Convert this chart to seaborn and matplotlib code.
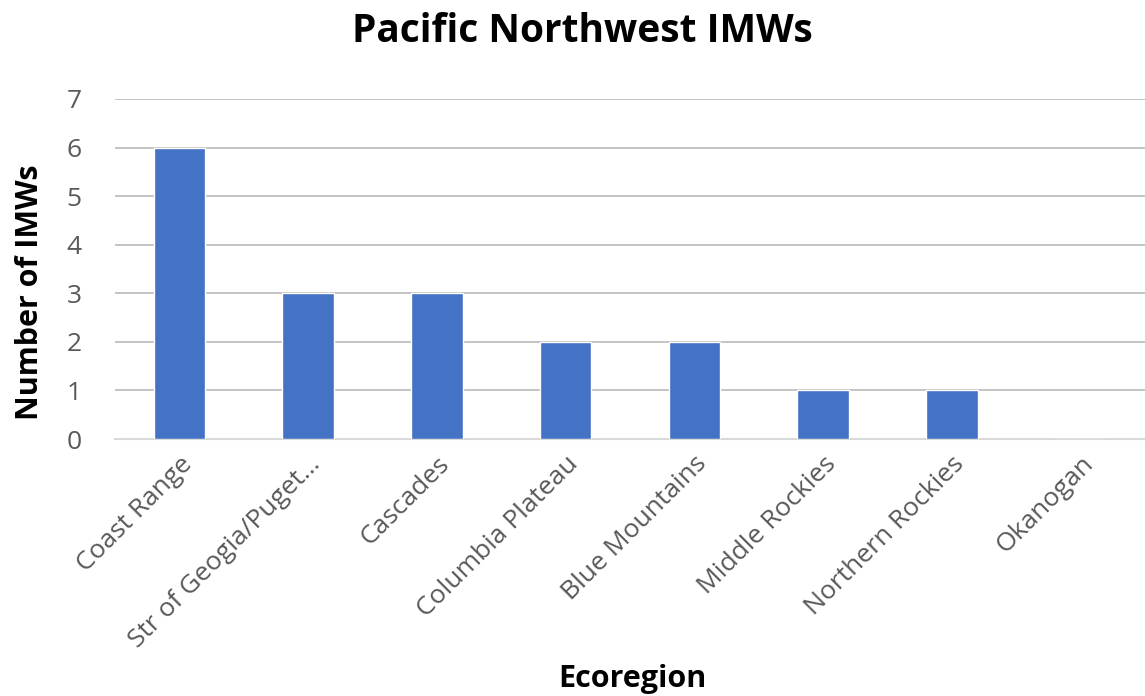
import matplotlib
matplotlib.use("Agg")
import matplotlib.pyplot as plt
import seaborn as sns
import pandas as pd

ecoregions = ["Coast Range", "Str of Geogia/Puget…", "Cascades", "Columbia Plateau",
              "Blue Mountains", "Middle Rockies", "Northern Rockies", "Okanogan"]
imw_counts = [6, 3, 3, 2, 2, 1, 1, 0]
y_ticks = [0, 1, 2, 3, 4, 5, 6, 7]

sns.set_theme(style="white")
plt.rcParams["font.family"] = ["Open Sans", "DejaVu Sans"]

df = pd.DataFrame({"Ecoregion": ecoregions, "IMWs": imw_counts})

fig = plt.figure(figsize=(11.45, 6.96), dpi=100)
ax = fig.add_axes([115 / 1145, 1 - 439 / 696, 1 - 115 / 1145, 340 / 696])

sns.barplot(data=df, x="Ecoregion", y="IMWs", color="#4472C4", width=0.4,
            saturation=1, ax=ax, zorder=3)

ax.set_ylim(0, 7)
ax.set_xlim(-0.5, len(ecoregions) - 0.5)
ax.set_yticks(y_ticks)
ax.yaxis.grid(True, color="#BFBFBF", linewidth=1.3, zorder=0)
ax.xaxis.grid(False)
for side in ["top", "right", "left"]:
    ax.spines[side].set_visible(False)
ax.spines["bottom"].set_color("#D9D9D9")
ax.spines["bottom"].set_linewidth(1.5)
ax.tick_params(axis="both", length=0, colors="#595959", labelsize=19)
ax.tick_params(axis="y", pad=24)
ax.tick_params(axis="x", pad=9)
ax.set_xticks(range(len(ecoregions)))
ax.set_xticklabels(ecoregions, rotation=45, ha="right", rotation_mode="anchor")
ax.set_xlabel("")
ax.set_ylabel("")

fig.text(0.509, 0.955, "Pacific Northwest IMWs", ha="center", va="center",
         fontsize=28, fontweight="bold", color="black")
fig.text(0.552, 0.024, "Ecoregion", ha="center", va="center",
         fontsize=22, fontweight="bold", color="black")
fig.text(0.026, 0.58, "Number of IMWs", ha="center", va="center", rotation=90,
         fontsize=22, fontweight="bold", color="black")

fig.savefig("out.png", dpi=100)
